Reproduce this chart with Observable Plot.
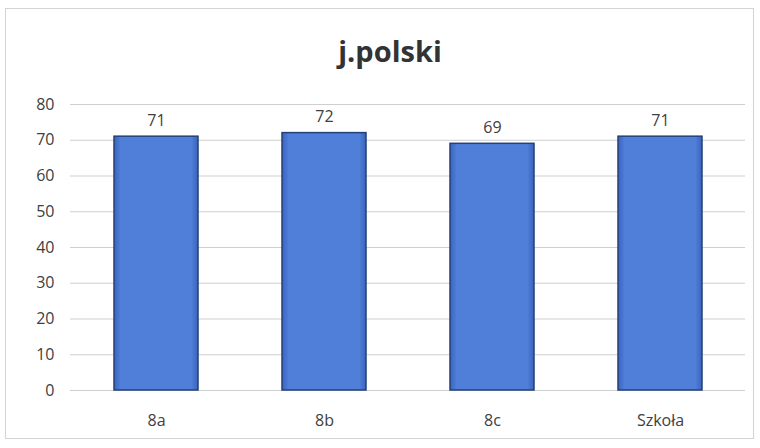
<!DOCTYPE html>
<html>
<head>
<meta charset="utf-8">
<script src="https://cdn.jsdelivr.net/npm/d3@7"></script>
<script src="https://cdn.jsdelivr.net/npm/@observablehq/plot@0.6"></script>
<style>
  html, body { margin: 0; padding: 0; background: #fff; }
  #wrap { position: relative; width: 760px; height: 448px; font-family: "Open Sans", "Noto Sans", sans-serif; }
  #border { position: absolute; left: 5px; top: 8px; width: 749px; height: 431px; border: 1px solid #d4d4d4; box-sizing: border-box; pointer-events: none; }
  #title { position: absolute; left: 0; width: 780px; top: 31px; text-align: center; font-size: 29px; font-weight: bold; color: #333; }
</style>
</head>
<body>
<div id="wrap">
  <div id="border"></div>
  <div id="title">j.polski</div>
</div>
<script>
const categories = ["8a", "8b", "8c", "Szkoła"];
const values = [71, 72, 69, 71];
const yTicks = [0, 10, 20, 30, 40, 50, 60, 70, 80];

const data = categories.map((c, i) => ({ cat: c, val: values[i] }));

const chart = Plot.plot({
  width: 760,
  height: 448,
  marginTop: 104,
  marginBottom: 58,
  marginLeft: 70,
  marginRight: 15,
  style: { fontFamily: "'Open Sans', 'Noto Sans', sans-serif", fontSize: "16px", color: "#404040", background: "transparent" },
  x: { domain: categories, paddingInner: 0.5, paddingOuter: 0.25, label: null, tickSize: 0, tickPadding: 24 },
  y: { domain: [0, 80], ticks: yTicks, label: null, tickSize: 0, tickPadding: 16 },
  marks: [
    Plot.gridY(yTicks, { stroke: "#cfcfcf", strokeOpacity: 1, strokeWidth: 1 }),
    Plot.barY(data, { x: "cat", y: "val", fill: "url(#barGrad)", stroke: "#24407a", strokeWidth: 1.5 }),
    Plot.text(data, { x: "cat", y: "val", text: d => String(d.val), dy: -16, fontSize: 16, fill: "#404040" })
  ]
});

const svg = d3.select(chart);
const defs = svg.insert("defs", ":first-child");
const g = defs.append("linearGradient").attr("id", "barGrad").attr("x1", "0").attr("x2", "1").attr("y1", "0").attr("y2", "0");
g.append("stop").attr("offset", "0%").attr("stop-color", "#3a63bb");
g.append("stop").attr("offset", "8%").attr("stop-color", "#4f7fd9");
g.append("stop").attr("offset", "92%").attr("stop-color", "#4f7fd9");
g.append("stop").attr("offset", "100%").attr("stop-color", "#3a63bb");

chart.style.position = "absolute";
chart.style.left = "0";
chart.style.top = "0";
document.getElementById("wrap").appendChild(chart);
</script>
</body>
</html>
